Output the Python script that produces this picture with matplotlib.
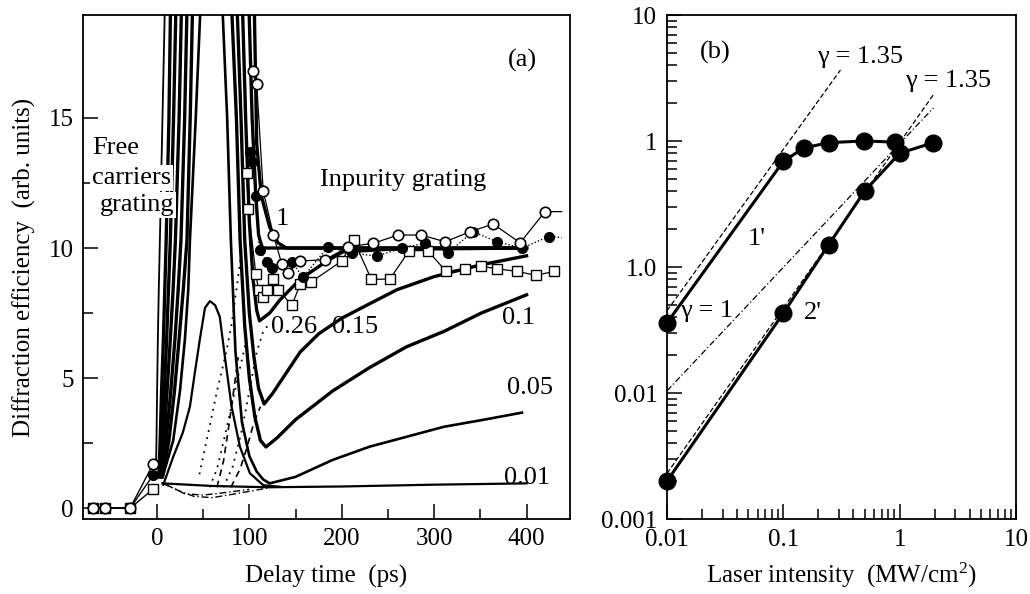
import numpy as np
import matplotlib
matplotlib.use("Agg")
import matplotlib.pyplot as plt
from matplotlib.ticker import FixedLocator, FixedFormatter, NullFormatter

plt.rcParams['font.family'] = ['Liberation Serif', 'DejaVu Serif']
plt.rcParams['mathtext.fontset'] = 'custom'
plt.rcParams['mathtext.rm'] = 'Liberation Serif'
plt.rcParams['mathtext.it'] = 'Liberation Serif:italic'

# ---------------- panel (a) data: delay time (ps) vs diffraction efficiency ----------------
# computed curves, labelled by laser intensity (rise -> off scale -> fall -> tail)
c1_x = [2, 3.5, 5, 7, 8.5, 10, 13, 15, 105, 108, 113, 122, 131, 140, 400]
c1_y = [1.2, 2.6, 4.5, 6.5, 8.4, 10.3, 15, 20, 20, 14, 12, 10.8, 10.2, 10.0, 10.0]
cA_x = [3, 5.5, 8, 10.5, 12.5, 14.5, 18, 21, 99, 103, 107, 110, 114, 400]
cA_y = [1.2, 2.6, 4.5, 6.5, 8.4, 10.3, 15, 20, 20, 15, 12, 10.5, 10.0, 10.0]
c026_x = [4, 7.5, 11, 14.5, 17.5, 20, 24, 27, 92, 96, 100, 104, 108, 111, 122, 133, 155, 184, 201, 250, 400]
c026_y = [1.2, 2.6, 4.5, 6.5, 8.4, 10.3, 15, 20, 20, 15, 11, 8.8, 7.6, 7.2, 7.5, 8.0, 8.8, 9.5, 9.85, 9.95, 10.0]
c015_x = [5, 10, 15, 19.5, 23, 26, 30, 33, 86, 91, 95, 100, 105, 110, 116, 125, 140, 155, 175, 200, 227, 260, 300, 350, 400]
c015_y = [1.2, 2.6, 4.5, 6.5, 8.4, 10.3, 15, 20, 20, 15, 10.3, 7.5, 5.8, 4.6, 4.0, 4.4, 5.2, 6.0, 6.7, 7.3, 7.8, 8.4, 8.9, 9.35, 9.7]
c01_x = [6, 13, 19, 24, 28.5, 32.5, 36, 39, 80, 86, 90, 95, 100, 106, 112, 118, 130, 150, 190, 230, 270, 311, 351, 400]
c01_y = [1.2, 2.6, 4.5, 6.5, 8.4, 10.3, 15, 20, 20, 15, 10.3, 7, 5, 3.5, 2.6, 2.35, 2.7, 3.4, 4.5, 5.4, 6.2, 6.8, 7.5, 8.2]
c005_x = [7, 17.6, 24.9, 30.3, 33.9, 35.7, 42, 48, 70, 76, 80, 85, 92, 100, 108, 115, 122, 150, 190, 230, 270, 311, 351, 395]
c005_y = [1.3, 2.6, 4.5, 6.5, 8.4, 10.3, 15, 20, 20, 15, 10.3, 6, 3.3, 2.0, 1.4, 1.1, 0.95, 1.2, 1.85, 2.36, 2.74, 3.13, 3.38, 3.67]
c001_x = [6, 60, 120, 200, 300, 400]
c001_y = [0.95, 0.85, 0.8, 0.83, 0.9, 0.95]
# free-carrier peak of the weakest excitation
bell_x = [6.9, 17.6, 28, 35.7, 41, 46.5, 52, 57.4, 63, 68, 73.6, 80.8, 89.8, 100.6, 115, 133]
bell_y = [0.9, 1.97, 2.9, 3.9, 5.2, 6.5, 7.7, 7.96, 7.8, 7.36, 5.8, 3.9, 2.36, 1.34, 0.88, 0.82]
# leftmost thin line of the band
l0_x = [-1, -0.5, 0.2, 1.0, 2.0, 3.2, 6, 9]
l0_y = [1.5, 2.6, 4.5, 6.5, 8.4, 10.3, 15, 20]
# dotted / dashed / dash-dotted construction curves
dot1_x = [46, 55, 65, 75, 81, 86, 92]
dot1_y = [1.3, 2.8, 4.5, 6.0, 7.1, 8.4, 10.0]
dot2_x = [57, 65, 75, 83, 90, 97]
dot2_y = [0.8, 1.5, 3.0, 4.3, 5.4, 6.5]
dot3_x = [72, 82, 92, 100, 108, 115, 122]
dot3_y = [0.8, 1.6, 3.0, 4.5, 6.0, 6.8, 7.1]
dash1_x = [65, 72, 78, 83, 88]
dash1_y = [0.8, 1.8, 3.2, 4.5, 5.8]
dash2_x = [80, 90, 98, 105, 112]
dash2_y = [0.8, 1.5, 2.4, 3.3, 3.9]
dd1_x = [6, 25, 40, 60, 85, 120]
dd1_y = [0.95, 0.65, 0.45, 0.4, 0.55, 0.77]
dd2_x = [10, 30, 50, 75, 100]
dd2_y = [0.9, 0.55, 0.5, 0.6, 0.72]

# experimental points
pre_x = [-69, -56, -29, -4]
open_pre_y = [0, 0, 0, 1.7]
filled_pre_y = [0, 0, 0, 1.27]
square_pre_y = [0, 0, 0, 0.73]

open_x = [104, 108, 115, 126, 135, 142, 155, 182, 207, 234, 261, 286, 312, 339, 364, 393, 420, 438]
open_y = [16.8, 16.3, 12.2, 10.5, 9.4, 9.05, 9.5, 9.55, 10.05, 10.18, 10.5, 10.5, 10.24, 10.63, 10.92, 10.2, 11.4, 11.4]
filled_x = [101, 103, 107, 111, 119, 124, 146, 158, 185, 211, 238, 265, 290, 315, 342, 368, 395, 424, 438]
filled_y = [13.7, 13.3, 12.0, 9.92, 9.47, 9.22, 9.47, 8.87, 10.05, 9.8, 9.69, 10.0, 10.18, 9.82, 10.63, 10.24, 10.0, 10.44, 10.4]
square_x = [97, 99, 107, 110, 115, 119, 126, 131, 146, 155, 167, 200, 213, 232, 252, 273, 293, 313, 333, 351, 368, 390, 410, 430]
square_y = [12.9, 11.5, 9.0, 8.4, 8.1, 8.4, 8.8, 8.4, 7.8, 8.6, 8.7, 9.5, 10.3, 8.8, 8.8, 9.9, 9.9, 9.1, 9.2, 9.3, 9.2, 9.1, 8.95, 9.1]

# ---------------- panel (b) data: laser intensity vs efficiency (log-log) ----------------
i1_x = [0.01, 0.1, 0.15, 0.245, 0.49, 0.92]
i1_y = [0.036, 0.69, 0.88, 0.97, 1.0, 0.98]
i2_x = [0.01, 0.1, 0.245, 0.5, 1.0, 1.95]
i2_y = [0.002, 0.043, 0.15, 0.40, 0.80, 0.97]
fit1_x = [0.01, 0.31]
fit1_y = [0.045, 3.66]
fit2_x = [0.01, 1.95]
fit2_y = [0.0023, 2.33]
lin_x = [0.01, 1.95]
lin_y = [0.0104, 1.83]

FS = 18
FA = 19

fig = plt.figure(figsize=(10.3, 5.94), dpi=100)
W, H = 1030, 594
ax = fig.add_axes([83 / W, 75 / H, 487 / W, 504 / H])
bx = fig.add_axes([667 / W, 75 / H, 349 / W, 504 / H])

k = 'black'
for xs, ys in [(c1_x, c1_y), (cA_x, cA_y), (c026_x, c026_y), (c015_x, c015_y), (c01_x, c01_y)]:
    ax.plot(xs, ys, color=k, lw=2.4, solid_joinstyle='round', zorder=2)
ax.plot(c005_x, c005_y, color=k, lw=1.9, solid_joinstyle='round', zorder=2)
ax.plot(l0_x, l0_y, color=k, lw=1.3, zorder=2)
ax.plot(bell_x, bell_y, color=k, lw=1.6, solid_joinstyle='round', zorder=2)
ax.plot(c001_x, c001_y, color=k, lw=1.6, zorder=2)
for xs, ys in [(dot1_x, dot1_y), (dot2_x, dot2_y), (dot3_x, dot3_y)]:
    ax.plot(xs, ys, color=k, lw=1.3, ls=(0, (1, 3)), zorder=2)
for xs, ys in [(dash1_x, dash1_y), (dash2_x, dash2_y)]:
    ax.plot(xs, ys, color=k, lw=1.2, ls=(0, (4, 3)), zorder=2)
for xs, ys in [(dd1_x, dd1_y), (dd2_x, dd2_y)]:
    ax.plot(xs, ys, color=k, lw=1.0, ls=(0, (5, 2, 1, 2)), zorder=2)

# markers
ms = 7.5
ax.plot(pre_x, square_pre_y, color=k, lw=1, marker='s', ms=ms - 1, mfc='white', mec=k, zorder=4)
ax.plot(pre_x, filled_pre_y, color=k, lw=1, marker='o', ms=ms - 0.5, mfc=k, mec=k, zorder=4)
ax.plot(pre_x, open_pre_y, color=k, lw=1, marker='o', ms=ms, mfc='white', mec=k, mew=1.2, zorder=4)

ax.plot(square_x, square_y, color=k, lw=0.9, marker='s', ms=ms - 1, mfc='white', mec=k, zorder=3)
ax.plot(filled_x, filled_y, color=k, lw=1.0, ls=(0, (1, 1.5)), marker='o', ms=ms - 0.5,
        mfc=k, mec=k, markevery=list(range(len(filled_x) - 1)), zorder=4)
ax.plot(open_x, open_y, color=k, lw=0.9, marker='o', ms=ms, mfc='white', mec=k, mew=1.2,
        markevery=list(range(len(open_x) - 1)), zorder=5)

ax.set_xlim(-80, 447)
ax.set_ylim(-0.42, 18.96)
ax.xaxis.set_major_locator(FixedLocator([0, 100, 200, 300, 400]))
ax.xaxis.set_minor_locator(FixedLocator([50, 150, 250, 350]))
ax.yaxis.set_major_locator(FixedLocator([0, 5, 10, 15]))
ax.yaxis.set_minor_locator(FixedLocator([2.5, 7.5, 12.5]))
ax.tick_params(which='both', direction='in', top=False, right=False, labelsize=FS, width=1.1)
ax.tick_params(which='major', length=11, pad=6.5)
ax.tick_params(which='minor', length=7)
for s in ax.spines.values():
    s.set_linewidth(1.3)

ax.set_xlabel('Delay time  (ps)', fontsize=FS)
ax.xaxis.set_label_coords(0.5, -0.127)
ax.xaxis.label.set_va('baseline')
ax.set_ylabel('Diffraction efficiency  (arb. units)', fontsize=FS)
ax.yaxis.set_label_coords(-0.107, 0.5)
ax.yaxis.label.set_va('baseline')

ax.text(396, 17.2, '(a)', fontsize=FA, ha='center', va='center')
ax.text(266, 12.6, 'Inpurity grating', fontsize=FA, ha='center', va='center')
wb = dict(facecolor='white', edgecolor='none', pad=1.5)
ax.text(-70, 13.85, 'Free', fontsize=FA, ha='left', va='center', bbox=wb, zorder=6)
ax.text(-70, 12.7, 'carriers', fontsize=FA, ha='left', va='center', bbox=wb, zorder=6)
ax.text(-62, 11.65, 'grating', fontsize=FA, ha='left', va='center', bbox=wb, zorder=6)
ax.text(136, 11.1, '1', fontsize=FA, ha='center', va='center')
ax.text(148, 6.95, '0.26', fontsize=FA, ha='center', va='center')
ax.text(214, 6.95, '0.15', fontsize=FA, ha='center', va='center')
ax.text(391, 7.3, '0.1', fontsize=FA, ha='center', va='center')
ax.text(404, 4.6, '0.05', fontsize=FA, ha='center', va='center')
ax.text(401, 1.15, '0.01', fontsize=FA, ha='center', va='center')

# ---------------- panel (b) ----------------
bx.set_xscale('log')
bx.set_yscale('log')
bx.plot(fit1_x, fit1_y, color=k, lw=0.9, ls=(0, (4, 2)))
bx.plot(fit2_x, fit2_y, color=k, lw=0.9, ls=(0, (4, 2)))
bx.plot(lin_x, lin_y, color=k, lw=0.9, ls=(0, (5, 2, 1, 2)))
bx.plot(i1_x, i1_y, color=k, lw=2.2, marker='o', ms=12, mfc=k, mec=k, clip_on=False, zorder=4)
bx.plot(i2_x, i2_y, color=k, lw=2.2, marker='o', ms=12, mfc=k, mec=k, clip_on=False, zorder=4)
bx.set_xlim(0.01, 10)
bx.set_ylim(0.001, 10)
bx.xaxis.set_major_locator(FixedLocator([0.01, 0.1, 1, 10]))
bx.xaxis.set_major_formatter(FixedFormatter(['0.01', '0.1', '1', '10']))
bx.yaxis.set_major_locator(FixedLocator([0.001, 0.01, 0.1, 1, 10]))
bx.yaxis.set_major_formatter(FixedFormatter(['0.001', '0.01', '1.0', '1', '10']))
minors = [m * 10.0 ** e for e in range(-3, 1) for m in range(2, 10)]
bx.xaxis.set_minor_locator(FixedLocator([v for v in minors if 0.01 < v < 10]))
bx.yaxis.set_minor_locator(FixedLocator([v for v in minors if 0.001 < v < 10]))
bx.xaxis.set_minor_formatter(NullFormatter())
bx.yaxis.set_minor_formatter(NullFormatter())
bx.tick_params(which='both', direction='in', top=False, right=False, labelsize=FS, width=1.1)
bx.tick_params(which='major', length=11, pad=7)
bx.tick_params(which='minor', length=7)
for s in bx.spines.values():
    s.set_linewidth(1.3)
bx.set_xlabel(r'Laser intensity  (MW/cm$^{2}$)', fontsize=FS)
bx.xaxis.set_label_coords(0.5, -0.127)
bx.xaxis.label.set_va('baseline')

bx.text(0.026, 5.0, '(b)', fontsize=FA, ha='center', va='center')
bx.text(0.457, 4.6, 'γ = 1.35', fontsize=FA, ha='center', va='center')
bx.text(2.6, 3.0, 'γ = 1.35', fontsize=FA, ha='center', va='center')
bx.text(0.059, 0.167, "1'", fontsize=FA, ha='center', va='center')
bx.text(0.022, 0.045, 'γ = 1', fontsize=FA, ha='center', va='center')
bx.text(0.18, 0.043, "2'", fontsize=FA, ha='center', va='center')

fig.savefig('out.png', dpi=100)
